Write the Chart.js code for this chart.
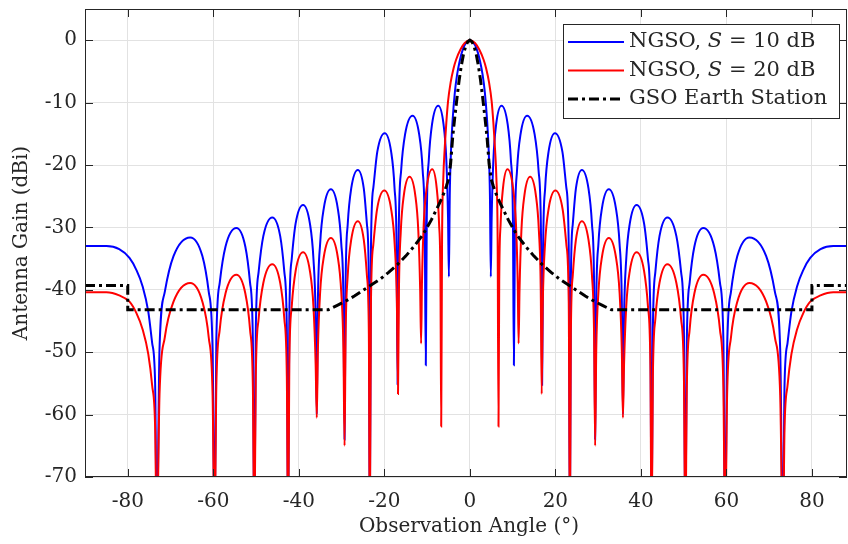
<!DOCTYPE html>
<html>
<head>
<meta charset="utf-8">
<script src="https://cdn.jsdelivr.net/npm/chart.js@4.4.1/dist/chart.umd.min.js"></script>
<style>
  html, body { margin: 0; padding: 0; background: #fff; }
  #wrap { width: 848px; height: 544px; }
</style>
</head>
<body>
<div id="wrap"><canvas id="grafico" width="848" height="544"></canvas></div>
<script>
// ejes
const xTicks = [-80, -60, -40, -20, 0, 20, 40, 60, 80];
const yTicks = [0, -10, -20, -30, -40, -50, -60, -70];

// NGSO, S = 10 dB
const blueAngle = [-90,-85,-82,-79.6,-78,-76.5,-75.2,-74.3,-73.6,-73.2,
  -72.58,-71.33,-69.3,-65.4,-62.55,-61.07,-60.16,-59.7,
  -59.29,-58.48,-57.15,-54.6,-52.5,-51.41,-50.74,-50.4,
  -50.06,-49.39,-48.3,-46.2,-44.35,-43.39,-42.8,-42.5,
  -42.22,-41.66,-40.75,-39,-37.4,-36.57,-36.06,-35.8,
  -35.54,-35.01,-34.15,-32.5,-30.9,-30.07,-29.56,-29.3,
  -29.05,-28.56,-27.75,-26.2,-24.8,-24.07,-23.62,-23.4,
  -23.12,-22.56,-21.65,-19.9,-18.4,-17.62,-17.14,-16.9,
  -16.62,-16.06,-15.15,-13.4,-11.85,-11.04,-10.55,-10.3,
  -10.07,-9.6,-8.85,-7.4,-6.15,-5.5,-5.1,-4.9,
  -4.7,-4.4,-4,-3.5,-3,-2.4,-1.6,-0.8,0,
  0.8,1.6,2.4,3,3.5,4,4.4,4.7,
  4.9,5.1,5.5,6.15,7.4,8.85,9.6,10.07,
  10.3,10.55,11.04,11.85,13.4,15.15,16.06,16.62,
  16.9,17.14,17.62,18.4,19.9,21.65,22.56,23.12,
  23.4,23.62,24.07,24.8,26.2,27.75,28.56,29.05,
  29.3,29.56,30.07,30.9,32.5,34.15,35.01,35.54,
  35.8,36.06,36.57,37.4,39,40.75,41.66,42.22,
  42.5,42.8,43.39,44.35,46.2,48.3,49.39,50.06,
  50.4,50.74,51.41,52.5,54.6,57.15,58.48,59.29,
  59.7,60.16,61.07,62.55,65.4,69.3,71.33,72.58,
  73.2,73.6,74.3,75.2,76.5,78,79.6,82,85,90];
const blueGain = [-33,-33,-33.5,-34.9,-36.8,-39.5,-43.5,-48.5,-55,-80,
  -49.6,-40.3,-34.6,-31.6,-34.6,-40.3,-49.6,-80,
  -48.1,-38.8,-33.1,-30.1,-33.1,-38.8,-48.1,-80,
  -46.4,-37.1,-31.4,-28.4,-31.4,-37.1,-46.4,-80,
  -44.4,-35.1,-29.4,-26.4,-29.4,-35.1,-44.4,-60,
  -41.9,-32.6,-26.9,-23.9,-26.9,-32.6,-41.9,-64,
  -38.8,-29.5,-23.8,-20.8,-23.8,-29.5,-38.8,-80,
  -32.9,-23.6,-17.9,-14.9,-17.9,-23.6,-32.9,-55.2,
  -30.1,-20.8,-15.1,-12.1,-15.1,-20.8,-30.1,-52.1,
  -28.5,-19.2,-13.5,-10.5,-13.5,-19.2,-28.5,-37.9,
  -25,-17.6,-12.5,-8.3,-5.6,-3.4,-1.4,-0.35,0,
  -0.35,-1.4,-3.4,-5.6,-8.3,-12.5,-17.6,-25,
  -37.9,-28.5,-19.2,-13.5,-10.5,-13.5,-19.2,-28.5,
  -52.1,-30.1,-20.8,-15.1,-12.1,-15.1,-20.8,-30.1,
  -55.2,-32.9,-23.6,-17.9,-14.9,-17.9,-23.6,-32.9,
  -80,-38.8,-29.5,-23.8,-20.8,-23.8,-29.5,-38.8,
  -64,-41.9,-32.6,-26.9,-23.9,-26.9,-32.6,-41.9,
  -60,-44.4,-35.1,-29.4,-26.4,-29.4,-35.1,-44.4,
  -80,-46.4,-37.1,-31.4,-28.4,-31.4,-37.1,-46.4,
  -80,-48.1,-38.8,-33.1,-30.1,-33.1,-38.8,-48.1,
  -80,-49.6,-40.3,-34.6,-31.6,-34.6,-40.3,-49.6,
  -80,-55,-48.5,-43.5,-39.5,-36.8,-34.9,-33.5,-33,-33];

// NGSO, S = 20 dB
const redAngle = [-90,-85,-82,-79.6,-78,-76.5,-75.2,-74.3,-73.6,-73.2,
  -72.58,-71.33,-69.3,-65.4,-62.55,-61.07,-60.16,-59.7,
  -59.29,-58.48,-57.15,-54.6,-52.5,-51.41,-50.74,-50.4,
  -50.06,-49.39,-48.3,-46.2,-44.35,-43.39,-42.8,-42.5,
  -42.22,-41.66,-40.75,-39,-37.4,-36.57,-36.06,-35.8,
  -35.54,-35.01,-34.15,-32.5,-30.9,-30.07,-29.56,-29.3,
  -29.05,-28.56,-27.75,-26.2,-24.8,-24.07,-23.62,-23.4,
  -23.13,-22.58,-21.7,-20,-18.4,-17.57,-17.06,-16.8,
  -16.58,-16.15,-15.45,-14.1,-12.75,-12.05,-11.62,-11.4,
  -11.19,-10.78,-10.1,-8.8,-7.75,-7.2,-6.87,-6.7,
  -6.5,-6.2,-5.9,-5.5,-5.1,-4.5,-3.8,-3.2,-2.2,-1.2,0,
  1.2,2.2,3.2,3.8,4.5,5.1,5.5,5.9,6.2,6.5,
  6.7,6.87,7.2,7.75,8.8,10.1,10.78,11.19,
  11.4,11.62,12.05,12.75,14.1,15.45,16.15,16.58,
  16.8,17.06,17.57,18.4,20,21.7,22.58,23.13,
  23.4,23.62,24.07,24.8,26.2,27.75,28.56,29.05,
  29.3,29.56,30.07,30.9,32.5,34.15,35.01,35.54,
  35.8,36.06,36.57,37.4,39,40.75,41.66,42.22,
  42.5,42.8,43.39,44.35,46.2,48.3,49.39,50.06,
  50.4,50.74,51.41,52.5,54.6,57.15,58.48,59.29,
  59.7,60.16,61.07,62.55,65.4,69.3,71.33,72.58,
  73.2,73.6,74.3,75.2,76.5,78,79.6,82,85,90];
const redGain = [-40.4,-40.4,-40.9,-41.9,-43.7,-46.4,-50.3,-55.3,-62,-80,
  -56.9,-47.6,-41.9,-38.9,-41.9,-47.6,-56.9,-80,
  -55.6,-46.3,-40.6,-37.6,-40.6,-46.3,-55.6,-80,
  -53.9,-44.6,-38.9,-35.9,-38.9,-44.6,-53.9,-80,
  -52,-42.7,-37,-34,-37,-42.7,-52,-60.5,
  -49.7,-40.4,-34.7,-31.7,-34.7,-40.4,-49.7,-65,
  -47,-37.7,-32,-29,-32,-37.7,-47,-80,
  -42.1,-32.8,-27.1,-24.1,-27.1,-32.8,-42.1,-56.7,
  -39.9,-30.6,-24.9,-21.9,-24.9,-30.6,-39.9,-48.6,
  -38.7,-29.4,-23.7,-20.7,-23.7,-29.4,-38.7,-61.9,
  -32,-22,-17.6,-13.2,-9.8,-6.8,-4.5,-3.1,-1.5,-0.45,0,
  -0.45,-1.5,-3.1,-4.5,-6.8,-9.8,-13.2,-17.6,-22,-32,
  -61.9,-38.7,-29.4,-23.7,-20.7,-23.7,-29.4,-38.7,
  -48.6,-39.9,-30.6,-24.9,-21.9,-24.9,-30.6,-39.9,
  -56.7,-42.1,-32.8,-27.1,-24.1,-27.1,-32.8,-42.1,
  -80,-47,-37.7,-32,-29,-32,-37.7,-47,
  -65,-49.7,-40.4,-34.7,-31.7,-34.7,-40.4,-49.7,
  -60.5,-52,-42.7,-37,-34,-37,-42.7,-52,
  -80,-53.9,-44.6,-38.9,-35.9,-38.9,-44.6,-53.9,
  -80,-55.6,-46.3,-40.6,-37.6,-40.6,-46.3,-55.6,
  -80,-56.9,-47.6,-41.9,-38.9,-41.9,-47.6,-56.9,
  -80,-62,-55.3,-50.3,-46.4,-43.7,-41.9,-40.9,-40.4,-40.4];

// GSO Earth Station
const gsoAngle = [-90,-80,-80,-33.1,-31,-29,-27,-25,-23,-21,-19,-17,-15,-13,-11,-9,-8,-7,-6,-5.5,-5,-4.5,-4,-3.5,-3,-2.5,-2,-1.5,-1,-0.5,0,
  0.5,1,1.5,2,2.5,3,3.5,4,4.5,5,5.5,6,7,8,9,11,13,15,17,19,21,23,25,27,29,31,33.1,80,80,90];
const gsoGain = [-39.3,-39.3,-43.2,-43.2,-42.5,-41.8,-41,-40.1,-39.2,-38.3,-37.2,-36,-34.6,-33,-31.2,-28.8,-27.4,-26,-24.4,-23.4,-22.3,-19.8,-15.4,-12.2,-9.2,-6.4,-4.1,-2.3,-1,-0.25,0,
  -0.25,-1,-2.3,-4.1,-6.4,-9.2,-12.2,-15.4,-19.8,-22.3,-23.4,-24.4,-26,-27.4,-28.8,-31.2,-33,-34.6,-36,-37.2,-38.3,-39.2,-40.1,-41,-41.8,-42.5,-43.2,-43.2,-39.3,-39.3];

const FONT = 'DejaVu Serif';
const INK = '#262626';

function puntos(xs, ys) {
  return xs.map((v, i) => ({ x: v, y: ys[i] }));
}

//LEYENDA, MARCO Y TITULOS
const marco = {
  id: 'marco',
  afterDatasetsDraw(chart) {
    const { ctx, chartArea: a, scales } = chart;
    ctx.save();
    ctx.strokeStyle = INK;
    ctx.lineWidth = 1;
    ctx.strokeRect(a.left + 0.5, a.top + 0.5, a.right - a.left - 1, a.bottom - a.top - 1);
    ctx.beginPath();
    xTicks.forEach(v => {
      const px = Math.round(scales.x.getPixelForValue(v)) + 0.5;
      ctx.moveTo(px, a.bottom); ctx.lineTo(px, a.bottom - 8);
      ctx.moveTo(px, a.top); ctx.lineTo(px, a.top + 8);
    });
    yTicks.forEach(v => {
      const py = Math.round(scales.y.getPixelForValue(v)) + 0.5;
      ctx.moveTo(a.left, py); ctx.lineTo(a.left + 8, py);
      ctx.moveTo(a.right, py); ctx.lineTo(a.right - 8, py);
    });
    ctx.stroke();
    ctx.restore();
  },
  afterDraw(chart) {
    const ctx = chart.ctx;
    ctx.save();
    ctx.fillStyle = INK;
    ctx.font = '20px "' + FONT + '"';
    ctx.textAlign = 'center';
    ctx.textBaseline = 'middle';
    ctx.fillText('Observation Angle (°)', 469, 527);
    ctx.translate(22, 243);
    ctx.rotate(-Math.PI / 2);
    ctx.fillText('Antenna Gain (dBi)', 0, 0);
    ctx.restore();

    // leyenda
    ctx.save();
    ctx.fillStyle = '#fff';
    ctx.fillRect(563, 24, 276, 94);
    ctx.strokeStyle = INK;
    ctx.lineWidth = 1;
    ctx.strokeRect(563.5, 24.5, 276, 94);
    const filas = [
      { y: 42, color: '#0000ff', ancho: 2, dash: [], partes: ['NGSO, ', 'S', ' = 10 dB'] },
      { y: 70.5, color: '#ff0000', ancho: 2, dash: [], partes: ['NGSO, ', 'S', ' = 20 dB'] },
      { y: 99, color: '#000000', ancho: 3, dash: [10, 4, 3, 4], partes: ['GSO Earth Station'] }
    ];
    filas.forEach(f => {
      ctx.strokeStyle = f.color;
      ctx.lineWidth = f.ancho;
      ctx.setLineDash(f.dash);
      ctx.beginPath();
      ctx.moveTo(568, f.y); ctx.lineTo(624, f.y);
      ctx.stroke();
      ctx.setLineDash([]);
      ctx.fillStyle = INK;
      ctx.textBaseline = 'middle';
      ctx.textAlign = 'left';
      let x = 629;
      f.partes.forEach((p, i) => {
        ctx.font = (i === 1 ? 'italic ' : '') + '21px "' + FONT + '"';
        ctx.fillText(p, x, f.y);
        x += ctx.measureText(p).width;
      });
    });
    ctx.restore();
  }
};

const ctx = document.getElementById('grafico').getContext('2d');
new Chart(ctx, {
  type: 'line',
  data: {
    datasets: [
      {
        label: 'NGSO, S = 10 dB',
        data: puntos(blueAngle, blueGain),
        borderColor: '#0000ff',
        borderWidth: 2,
        pointRadius: 0,
        cubicInterpolationMode: 'monotone',
        order: 2
      },
      {
        label: 'NGSO, S = 20 dB',
        data: puntos(redAngle, redGain),
        borderColor: '#ff0000',
        borderWidth: 2,
        pointRadius: 0,
        cubicInterpolationMode: 'monotone',
        order: 1
      },
      {
        label: 'GSO Earth Station',
        data: puntos(gsoAngle, gsoGain),
        borderColor: '#000000',
        borderWidth: 3,
        borderDash: [10, 4, 3, 4],
        pointRadius: 0,
        tension: 0,
        order: 0
      }
    ]
  },
  options: {
    responsive: false,
    animation: false,
    devicePixelRatio: 1,
    layout: { padding: { top: 9, right: 1, left: 0, bottom: 0 } },
    plugins: {
      legend: { display: false },
      title: { display: false },
      tooltip: { enabled: false }
    },
    scales: {
      x: {
        type: 'linear',
        min: -90,
        max: 88.2,
        afterBuildTicks: s => { s.ticks = xTicks.map(v => ({ value: v })); },
        afterFit: s => { s.height = 67; s.paddingLeft = 0; s.paddingRight = 0; },
        grid: { color: '#e2e2e2', lineWidth: 1, drawTicks: false },
        border: { display: false },
        ticks: { padding: 13, color: INK, font: { family: FONT, size: 20 }, maxRotation: 0 }
      },
      y: {
        type: 'linear',
        min: -70,
        max: 5,
        afterBuildTicks: s => { s.ticks = yTicks.map(v => ({ value: v })); },
        afterFit: s => { s.width = 85; s.paddingTop = 0; s.paddingBottom = 0; },
        grid: { color: '#e2e2e2', lineWidth: 1, drawTicks: false },
        border: { display: false },
        ticks: { padding: 8, color: INK, font: { family: FONT, size: 20 } }
      }
    }
  },
  plugins: [marco]
});
</script>
</body>
</html>
